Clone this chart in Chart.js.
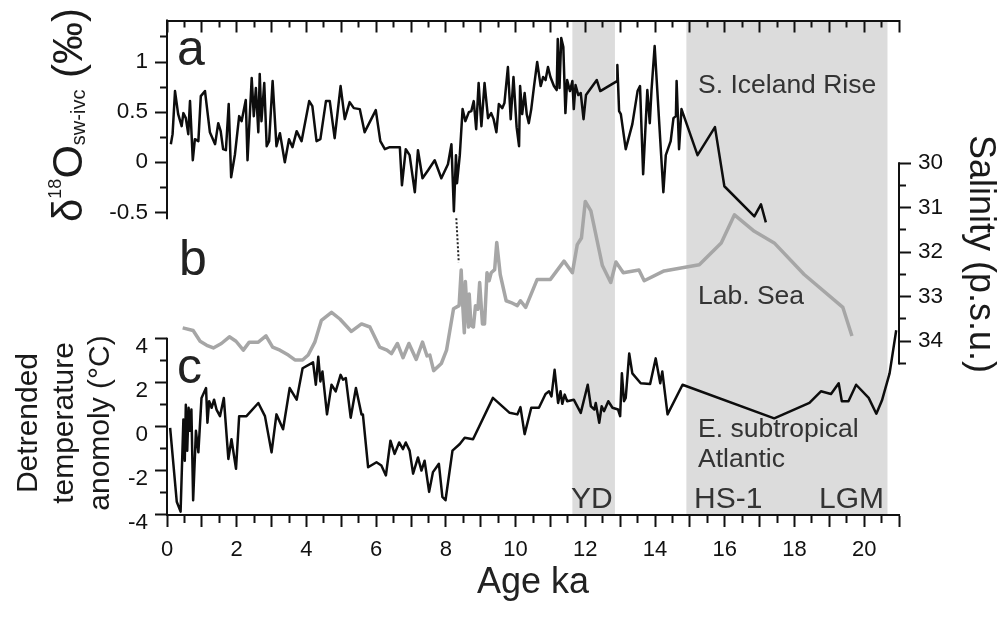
<!DOCTYPE html>
<html><head><meta charset="utf-8">
<script src="https://cdn.jsdelivr.net/npm/chart.js@4.4.1/dist/chart.umd.min.js"></script>
<style>html,body{margin:0;padding:0;background:#fff;}canvas{display:block;}</style>
</head><body>
<canvas id="c" width="1003" height="617"></canvas>
<script>
const FONT = '"Liberation Sans", Arial, Helvetica, sans-serif';

// ---- panel a: S. Iceland Rise d18O sw-ivc (permil) ----
const aAge = [0.11,0.16,0.23,0.32,0.42,0.47,0.54,0.61,0.66,0.74,0.80,0.90,0.97,1.09,1.23,1.38,1.47,1.54,1.61,1.69,1.77,1.84,1.95,2.07,2.14,2.26,2.31,2.43,2.49,2.55,2.62,2.66,2.71,2.79,2.86,2.93,3.03,3.14,3.24,3.38,3.50,3.60,3.72,3.86,4.08,4.17,4.29,4.40,4.56,4.67,4.81,4.98,5.10,5.24,5.36,5.53,5.67,5.99,6.12,6.25,6.39,6.68,6.74,6.85,6.96,7.11,7.20,7.33,7.49,7.68,7.87,8.06,8.16,8.23,8.29,8.32,8.40,8.48,8.56,8.66,8.73,8.80,8.87,8.94,9.02,9.11,9.21,9.30,9.37,9.45,9.52,9.62,9.68,9.78,9.86,9.94,10.03,10.10,10.13,10.19,10.26,10.32,10.38,10.45,10.53,10.62,10.72,10.79,10.86,10.93,11.00,11.10,11.18,11.21,11.26,11.31,11.37,11.43,11.48,11.56,11.63,11.67,11.72,11.80,11.87,11.95,12.02,12.33,12.43,12.91,12.92,12.97,13.02,13.16,13.35,13.50,13.57,13.66,13.78,13.85,13.90,13.99,14.24,14.31,14.45,14.53,14.60,14.62,14.69,14.76,15.22,15.72,15.99,16.85,17.04,17.18];
const aVal = [0.18,0.28,0.71,0.48,0.36,0.49,0.44,0.28,0.61,0.02,0.23,0.21,0.66,0.71,0.30,0.18,0.39,0.31,0.13,0.12,0.58,-0.15,0.08,0.46,0.41,0.62,0.02,0.84,0.46,0.74,0.30,0.88,0.41,0.79,0.16,0.21,0.81,0.16,0.29,0.00,0.23,0.15,0.31,0.21,0.61,0.56,0.21,0.23,0.61,0.61,0.24,0.76,0.43,0.60,0.54,0.53,0.30,0.52,0.21,0.13,0.15,0.15,-0.23,0.13,0.07,-0.30,0.12,-0.16,-0.08,0.02,-0.16,-0.02,0.18,-0.49,0.07,-0.21,0.07,0.53,0.41,0.50,0.51,0.61,0.33,0.79,0.36,0.79,0.44,0.49,0.43,0.30,0.58,0.54,0.59,0.95,0.43,0.85,0.35,0.16,0.76,0.48,0.69,0.48,0.39,0.53,0.76,1.00,0.76,0.85,0.82,0.95,0.85,0.76,0.72,1.23,0.74,1.24,1.15,0.49,0.82,0.71,0.81,0.53,0.77,0.67,0.69,0.43,0.67,0.82,0.71,0.81,0.97,0.51,0.48,0.13,0.38,0.71,0.76,-0.12,0.72,0.39,0.72,1.16,-0.30,0.07,0.21,0.44,0.46,0.81,0.13,0.53,0.07,0.35,-0.24,-0.54,-0.42,-0.60];

// dotted tie line between panel a and panel b
const tieAge = [8.30, 8.37];
const tieVal = [-0.56, -1.00];

// ---- panel b: Labrador Sea salinity (p.s.u.) ----
const bAge = [0.45,0.75,0.95,1.14,1.33,1.56,1.79,1.98,2.19,2.36,2.62,2.84,3.03,3.24,3.48,3.67,3.89,4.05,4.24,4.43,4.72,4.96,5.29,5.58,5.82,6.10,6.31,6.44,6.61,6.77,6.94,7.15,7.33,7.46,7.54,7.65,7.87,8.02,8.22,8.38,8.44,8.48,8.53,8.56,8.61,8.65,8.67,8.72,8.79,8.85,8.92,8.97,9.05,9.11,9.18,9.24,9.30,9.40,9.46,9.56,9.73,9.87,10.05,10.14,10.29,10.62,11.00,11.39,11.63,11.77,11.89,12.00,12.16,12.49,12.73,12.88,13.09,13.54,13.69,14.26,15.27,15.90,16.28,16.85,17.42,18.28,19.39,19.65];
const bSal = [33.70,33.76,34.00,34.09,34.15,34.05,33.90,34.00,34.20,34.02,34.02,33.88,34.13,34.20,34.31,34.42,34.42,34.31,34.02,33.53,33.35,33.50,33.78,33.61,33.68,34.13,34.20,34.28,34.05,34.37,34.05,34.41,34.02,34.33,34.31,34.66,34.50,34.20,33.27,33.20,32.40,33.13,33.81,32.66,33.35,33.68,32.94,33.64,33.68,33.20,33.28,32.68,33.61,33.61,32.46,32.64,32.46,32.39,31.78,32.50,33.09,33.13,33.20,33.09,33.24,32.61,32.61,32.20,32.46,31.83,31.68,30.86,31.07,32.30,32.68,32.22,32.46,32.40,32.64,32.42,32.28,31.79,31.16,31.53,31.79,32.50,33.24,33.88];

// ---- panel c: E. subtropical Atlantic detrended temperature anomaly (degC) ----
const cAge = [0.09,0.28,0.39,0.47,0.51,0.54,0.58,0.62,0.66,0.70,0.75,0.83,0.90,0.99,1.12,1.16,1.21,1.28,1.35,1.42,1.52,1.63,1.76,1.85,1.98,2.07,2.28,2.62,2.81,3.00,3.14,3.33,3.52,3.72,3.89,4.19,4.27,4.34,4.40,4.46,4.59,4.72,4.84,4.98,5.05,5.13,5.27,5.42,5.58,5.62,5.77,6.01,6.15,6.28,6.41,6.53,6.66,6.77,6.85,6.96,7.06,7.20,7.30,7.39,7.52,7.63,7.73,7.80,7.90,7.99,8.19,8.40,8.54,8.78,9.35,9.83,10.05,10.14,10.26,10.45,10.67,10.86,10.96,11.03,11.12,11.22,11.29,11.34,11.41,11.48,11.67,11.87,12.07,12.16,12.26,12.30,12.40,12.47,12.54,12.66,12.78,12.94,13.00,13.05,13.11,13.16,13.26,13.35,13.59,13.86,14.02,14.15,14.21,14.36,14.79,17.42,18.43,18.76,19.05,19.27,19.36,19.55,19.77,20.13,20.35,20.51,20.73,20.92];
const cVal = [-0.05,-3.42,-3.87,0.33,-1.55,1.00,-1.10,0.86,-0.19,0.78,-3.35,-0.19,-1.17,1.31,1.76,0.18,1.16,0.86,1.23,0.78,0.48,1.31,-1.47,-0.57,-1.92,0.48,0.48,1.08,0.48,-1.17,0.56,-0.12,1.76,1.23,2.66,2.93,1.91,3.18,2.06,2.51,0.56,1.91,1.61,2.36,2.14,2.21,0.41,1.76,0.56,0.56,-1.85,-1.62,-1.77,-2.22,-0.64,-1.24,-0.72,-1.02,-0.72,-1.09,-2.14,-1.40,-2.00,-1.55,-2.97,-2.07,-1.85,-1.69,-3.20,-3.35,-1.09,-0.79,-0.50,-0.57,1.31,0.63,0.56,0.89,-0.34,0.86,0.86,1.49,1.61,1.38,2.59,1.08,1.61,1.04,1.46,1.16,1.23,0.63,1.91,0.93,0.78,1.08,0.18,0.93,0.71,1.16,0.86,0.78,0.48,2.43,1.16,1.31,3.33,2.43,1.98,1.94,3.11,1.98,2.51,0.56,1.91,0.38,1.08,1.61,1.49,1.98,1.16,1.16,1.91,1.31,0.59,1.19,2.43,4.39];

// ---- shaded intervals (ka): YD, HS-1 + LGM ----
const shadeStart = [11.63, 14.90];
const shadeEnd   = [12.85, 20.67];

// ---- tick labels ----
const xTicks = [0,2,4,6,8,10,12,14,16,18,20];
const xTickLabels = ['0','2','4','6','8','10','12','14','16','18','20'];
const aTicks = [-0.5,0,0.5,1];
const aTickLabels = ['-0.5','0','0.5','1'];
const cTicks = [-4,-2,0,2,4];
const cTickLabels = ['-4','-2','0','2','4'];
const salTicks = [30,31,32,33,34];
const salTickLabels = ['30','31','32','33','34'];

// ---- scale windows (so the three panels stack on one plot area) ----
const A_MIN = -3.5217, A_MAX = 1.4146;
const C_MIN = -4.023,  C_MAX = 18.5;
const S_MIN = 26.793,  S_MAX = 37.904;
const C_LABEL_SHIFT = 8 / 500;

function pts(xs, ys) { return xs.map((x, i) => ({x: x, y: ys[i]})); }
function makeTicks(lo, hi, step, majorStep, labelVals, labelTxts) {
  const out = [];
  const n = Math.round((hi - lo) / step);
  for (let i = 0; i <= n; i++) {
    const v = +(lo + i * step).toFixed(6);
    const k = labelVals.indexOf(v);
    const r = v / majorStep;
    out.push({value: v, long: Math.abs(r - Math.round(r)) < 1e-6, txt: k >= 0 ? labelTxts[k] : ''});
  }
  return out;
}
function cToA(t) { return A_MIN + (t - C_MIN) / (C_MAX - C_MIN) * (A_MAX - A_MIN); }

const INK = '#111';
const minorDashOut = ctx => (ctx.tick && !ctx.tick.long) ? [7, 100] : [];
const minorDashIn  = ctx => (ctx.tick && !ctx.tick.long) ? [0, 5, 7, 100] : [];

const shadePlugin = {
  id: 'shade',
  beforeDraw(chart) {
    const {ctx, chartArea, scales} = chart;
    ctx.save();
    ctx.fillStyle = '#dcdcdc';
    for (let i = 0; i < shadeStart.length; i++) {
      const x0 = scales.x.getPixelForValue(shadeStart[i]);
      const x1 = scales.x.getPixelForValue(shadeEnd[i]);
      ctx.fillRect(x0, chartArea.top, x1 - x0, chartArea.bottom - chartArea.top);
    }
    ctx.restore();
  }
};

function seg(ctx, x0, y0, x1, y1) { ctx.beginPath(); ctx.moveTo(x0, y0); ctx.lineTo(x1, y1); ctx.stroke(); }

const axisLinePlugin = {
  id: 'axisLines',
  afterDatasetsDraw(chart) {
    const {ctx, chartArea, scales} = chart;
    ctx.save();
    ctx.strokeStyle = INK; ctx.lineWidth = 2;
    seg(ctx, chartArea.left, chartArea.top - 1, chartArea.left, scales.yA.getPixelForValue(-0.57));
    seg(ctx, chartArea.left, scales.yC.getPixelForValue(4) - 1, chartArea.left, scales.yC.getPixelForValue(-4));
    seg(ctx, chartArea.right, scales.ySal.getPixelForValue(30) - 1, chartArea.right, scales.ySal.getPixelForValue(34.5) + 1);
    ctx.restore();
  }
};

function drawRich(ctx, cx, cy, angle, parts) {
  ctx.save();
  ctx.translate(cx, cy); ctx.rotate(angle);
  ctx.textAlign = 'left'; ctx.textBaseline = 'alphabetic';
  let total = 0;
  parts.forEach(p => { ctx.font = p.size + 'px ' + FONT; p.w = ctx.measureText(p.t).width; total += p.w; });
  let x = -total / 2;
  parts.forEach(p => { ctx.font = p.size + 'px ' + FONT; ctx.fillText(p.t, x, p.dy || 0); x += p.w; });
  ctx.restore();
}

const textPlugin = {
  id: 'texts',
  afterDraw(chart) {
    const ctx = chart.ctx;
    ctx.save();
    ctx.fillStyle = '#1a1a1a';
    // left title, panel a
    drawRich(ctx, 82, 115, -Math.PI / 2, [
      {t: 'δ', size: 42}, {t: '18', size: 18, dy: -21}, {t: 'O', size: 43},
      {t: 'sw-ivc', size: 20, dy: 3}, {t: ' (‰)', size: 42}
    ]);
    // left title, panel c
    ctx.save();
    ctx.translate(0, 423); ctx.rotate(-Math.PI / 2);
    ctx.font = '30px ' + FONT; ctx.textAlign = 'center'; ctx.textBaseline = 'alphabetic';
    ctx.fillText('Detrended', 0, 37);
    ctx.fillText('temperature', 0, 73);
    ctx.fillText('anomoly (°C)', 0, 109);
    ctx.restore();
    // right title
    ctx.save();
    ctx.translate(970, 254); ctx.rotate(Math.PI / 2);
    ctx.font = '36px ' + FONT; ctx.textAlign = 'center'; ctx.textBaseline = 'alphabetic';
    ctx.fillText('Salinity (p.s.u.)', 0, 0);
    ctx.restore();
    // panel letters
    ctx.font = '50px ' + FONT; ctx.textAlign = 'left'; ctx.textBaseline = 'alphabetic';
    ctx.fillStyle = '#222';
    ctx.fillText('a', 177, 65);
    ctx.fillText('b', 179, 275);
    ctx.fillText('c', 177, 383);
    // record names
    ctx.fillStyle = '#333';
    ctx.font = '26.5px ' + FONT;
    ctx.fillText('S. Iceland Rise', 698, 93);
    ctx.fillText('Lab. Sea', 698, 304);
    ctx.fillText('E. subtropical', 698, 437);
    ctx.fillText('Atlantic', 698, 467);
    ctx.font = '30px ' + FONT;
    ctx.fillText('YD', 571, 508);
    ctx.fillText('HS-1', 694, 508);
    ctx.fillText('LGM', 819, 508);
    ctx.restore();
  }
};

const lineBase = {pointRadius: 0, tension: 0, fill: false, borderJoinStyle: 'round', xAxisID: 'x'};

new Chart(document.getElementById('c'), {
  type: 'line',
  data: {
    datasets: [
      Object.assign({}, lineBase, {label: 'Lab. Sea', data: pts(bAge, bSal), yAxisID: 'ySal', borderColor: '#a6a6a6', borderWidth: 3.5}),
      Object.assign({}, lineBase, {label: 'S. Iceland Rise', data: pts(aAge, aVal), yAxisID: 'yA', borderColor: '#0d0d0d', borderWidth: 2.5}),
      Object.assign({}, lineBase, {label: 'tie', data: pts(tieAge, tieVal), yAxisID: 'yA', borderColor: '#222', borderWidth: 2, borderDash: [2, 2]}),
      Object.assign({}, lineBase, {label: 'E. subtropical Atlantic', data: pts(cAge, cVal), yAxisID: 'yC', borderColor: '#0d0d0d', borderWidth: 2.5})
    ]
  },
  options: {
    responsive: false, animation: false, devicePixelRatio: 1,
    layout: {padding: {top: 15, left: 0, right: 0, bottom: 0}},
    plugins: {legend: {display: false}, tooltip: {enabled: false}},
    scales: {
      x: {
        type: 'linear', position: 'bottom', min: 0, max: 21,
        afterBuildTicks: s => { s.ticks = makeTicks(0, 21, 0.5, 1, xTicks, xTickLabels); },
        afterFit: s => { s.height = 102; },
        ticks: {autoSkip: false, maxRotation: 0, padding: 10, color: INK, font: {family: FONT, size: 22}, callback: (v, i, t) => t[i].txt},
        grid: {drawOnChartArea: false, drawTicks: true, tickLength: 12, tickWidth: 2, tickColor: INK, tickBorderDash: minorDashOut},
        border: {display: true, width: 2, color: INK},
        title: {display: true, text: 'Age ka', color: '#222', font: {family: FONT, size: 36}, padding: {top: 0, bottom: 12}}
      },
      xT: {
        type: 'linear', position: 'top', min: 0, max: 21,
        afterBuildTicks: s => { s.ticks = makeTicks(0, 21, 0.5, 1, [], []); },
        afterFit: s => { s.height = 0; },
        ticks: {display: false},
        grid: {drawOnChartArea: false, drawTicks: true, tickLength: -12, tickWidth: 2, tickColor: INK, tickBorderDash: minorDashIn},
        border: {display: true, width: 2, color: INK}
      },
      yA: {
        type: 'linear', position: 'left', min: A_MIN, max: A_MAX,
        afterBuildTicks: s => {
          const t = makeTicks(-0.5, 1.25, 0.25, 0.5, aTicks, aTickLabels);
          makeTicks(-4, 4, 1, 2, [], []).forEach(k => t.push({value: cToA(k.value), long: k.long, txt: ''}));
          cTicks.forEach((v, i) => t.push({value: cToA(v) - C_LABEL_SHIFT * (A_MAX - A_MIN), long: true, hide: true, txt: cTickLabels[i]}));
          s.ticks = t;
        },
        afterFit: s => { s.width = 167; },
        ticks: {autoSkip: false, padding: 7, color: INK, font: {family: FONT, size: 22.5}, callback: (v, i, t) => t[i].txt},
        grid: {drawOnChartArea: false, drawTicks: true, tickLength: 12, tickWidth: 2,
               tickColor: ctx => (ctx.tick && ctx.tick.hide) ? 'rgba(0,0,0,0)' : INK,
               tickBorderDash: minorDashIn},
        border: {display: false}
      },
      yC: {type: 'linear', position: 'left', display: false, min: C_MIN, max: C_MAX},
      ySal: {
        type: 'linear', position: 'right', reverse: true, min: S_MIN, max: S_MAX,
        afterBuildTicks: s => { s.ticks = makeTicks(30, 34.5, 0.5, 1, salTicks, salTickLabels); },
        afterFit: s => { s.width = 104; },
        ticks: {autoSkip: false, padding: 7, color: INK, font: {family: FONT, size: 22.5}, callback: (v, i, t) => t[i].txt},
        grid: {drawOnChartArea: false, drawTicks: true, tickLength: 12, tickWidth: 2, tickColor: INK, tickBorderDash: minorDashOut},
        border: {display: false}
      }
    }
  },
  plugins: [shadePlugin, axisLinePlugin, textPlugin]
});
</script>
</body></html>
